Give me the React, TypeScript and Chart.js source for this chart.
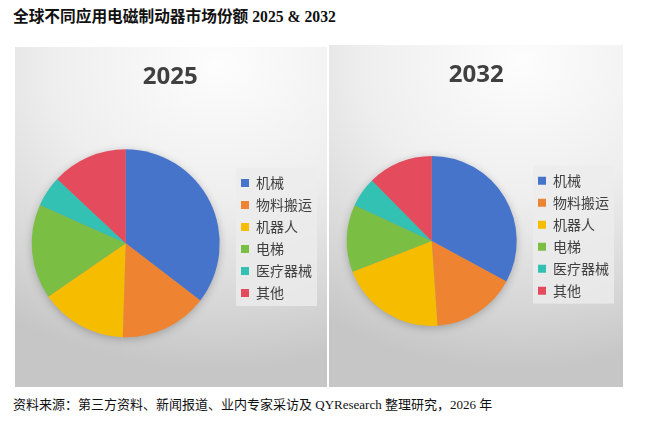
import { useEffect, useRef } from "react"
import { Chart, registerables } from "chart.js"

Chart.register(...registerables)

const categories = ["机械", "物料搬运", "机器人", "电梯", "医疗器械", "其他"]
const share2025 = [35.4, 15.1, 14.9, 16.3, 5.3, 13.0]
const share2032 = [32.9, 16.0, 20.2, 12.8, 5.7, 12.4]
const colors = ["#4674CA", "#EE8431", "#F5BC00", "#7BBE44", "#33C1B3", "#E44C5E"]

const legendBox = {
  id: "legendBox",
  beforeDraw(chart: Chart) {
    const lg: any = chart.legend
    if (!lg) return
    const ctx = chart.ctx
    ctx.save()
    ctx.fillStyle = "rgba(236,236,236,0.8)"
    ctx.fillRect(lg.left + 3, lg.top, lg.width - 8, 138)
    ctx.restore()
  },
  beforeDatasetsDraw(chart: Chart) {
    // soft shadow under the pie
    const arc: any = chart.getDatasetMeta(0).data[0]
    if (!arc) return
    const ctx = chart.ctx
    ctx.save()
    ctx.shadowColor = "rgba(0,0,0,0.28)"
    ctx.shadowBlur = 10
    ctx.shadowOffsetY = 2
    ctx.fillStyle = "#999"
    ctx.beginPath()
    ctx.arc(arc.x, arc.y, arc.outerRadius - 1, 0, Math.PI * 2)
    ctx.fill()
    ctx.restore()
  },
}

function YearPie({ year, values, radius, pad }: { year: string; values: number[]; radius: number; pad: any }) {
  const chartRef = useRef<HTMLCanvasElement>(null)
  const chartInstance = useRef<Chart | null>(null)

  useEffect(() => {
    if (!chartRef.current) return
    if (chartInstance.current) chartInstance.current.destroy()
    const ctx = chartRef.current.getContext("2d")
    if (!ctx) return

    chartInstance.current = new Chart(ctx, {
      type: "pie",
      data: {
        labels: categories,
        datasets: [
          {
            data: values,
            backgroundColor: colors,
            borderWidth: 0,
            radius: radius,
          },
        ],
      },
      options: {
        responsive: true,
        maintainAspectRatio: false,
        animation: false,
        layout: { padding: { left: pad.left, right: pad.right, top: 0, bottom: pad.bottom } },
        plugins: {
          title: {
            display: true,
            text: year,
            color: "#404040",
            font: { family: "'Open Sans', sans-serif", size: 24, weight: "bold" },
            padding: { top: 15.6, bottom: pad.titleBottom },
          },
          legend: {
            position: "right",
            align: "start",
            fullSize: false,
            labels: {
              boxWidth: 8,
              boxHeight: 8,
              padding: 8,
              color: "#404040",
              font: { family: "'Noto Sans CJK SC', sans-serif", size: 14 },
            },
          },
          tooltip: { enabled: false },
        },
      },
      plugins: [legendBox],
    })

    return () => {
      if (chartInstance.current) {
        chartInstance.current.destroy()
        chartInstance.current = null
      }
    }
  }, [])

  return <canvas ref={chartRef} />
}

const panelBg =
  "radial-gradient(ellipse 120% 90% at 65% 5%, #fdfdfd 0%, #eeeeee 45%, #d6d6d6 80%, #c6c6c6 100%)"

export default function App() {
  return (
    <div style={{ position: "absolute", left: 0, top: 0, width: 648, height: 427, background: "#fff" }}>
      <div
        style={{
          position: "absolute",
          left: 13,
          top: 6,
          fontFamily: "'Liberation Serif', 'Noto Sans CJK SC', serif",
          fontWeight: "bold",
          fontSize: 15.7,
          lineHeight: "22px",
          color: "#111",
          whiteSpace: "nowrap",
        }}
      >
        全球不同应用电磁制动器市场份额 2025 &amp; 2032
      </div>
      <div style={{ position: "absolute", left: 15, top: 47, width: 312, height: 340, background: panelBg }}>
        <YearPie
          year="2025"
          values={share2025}
          radius={94}
          pad={{ left: 3.4, right: 5, bottom: 68.4, titleBottom: 76.6 }}
        />
      </div>
      <div style={{ position: "absolute", left: 329, top: 45, width: 294, height: 342, background: panelBg }}>
        <YearPie
          year="2032"
          values={share2032}
          radius={85}
          pad={{ left: 4.4, right: 4, bottom: 70.7, titleBottom: 76.3 }}
        />
      </div>
      <div
        style={{
          position: "absolute",
          left: 13,
          top: 396,
          fontFamily: "'Liberation Serif', 'Noto Sans CJK SC', serif",
          fontSize: 13,
          lineHeight: "18px",
          color: "#111",
          whiteSpace: "nowrap",
        }}
      >
        资料来源：第三方资料、新闻报道、业内专家采访及 QYResearch 整理研究，2026 年
      </div>
    </div>
  )
}
